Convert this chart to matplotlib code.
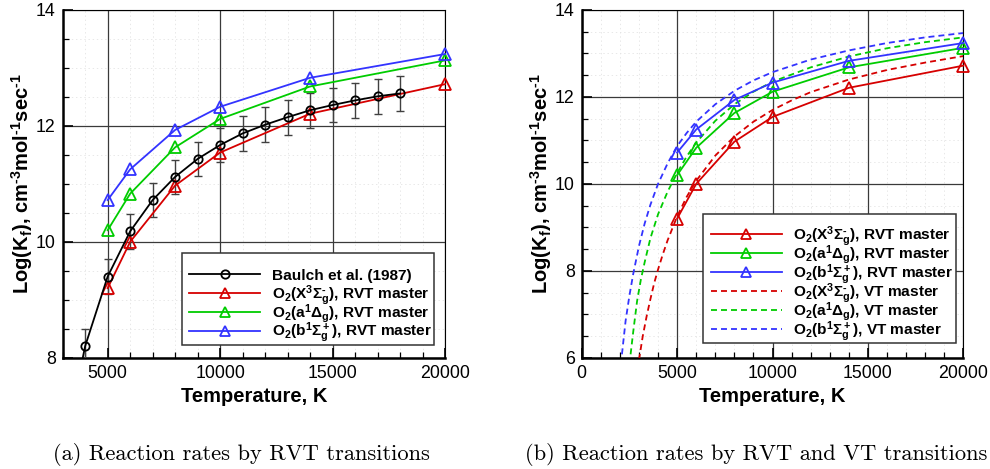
import matplotlib
matplotlib.use("Agg")
import matplotlib.pyplot as plt
from matplotlib.ticker import MultipleLocator
from matplotlib.patches import Rectangle

plt.rcParams['font.family'] = ['Liberation Sans', 'DejaVu Sans']
plt.rcParams['mathtext.fontset'] = 'custom'
plt.rcParams['mathtext.rm'] = 'Liberation Sans:bold'
plt.rcParams['mathtext.bf'] = 'Liberation Sans:bold'
plt.rcParams['mathtext.it'] = 'Liberation Sans:bold'
plt.rcParams['mathtext.sf'] = 'Liberation Sans:bold'
plt.rcParams['mathtext.default'] = 'rm'
plt.rcParams['lines.scale_dashes'] = False

# Baulch et al. (1987) reference rates with uncertainty
baulch_T = [3000, 4000, 5000, 6000, 7000, 8000, 9000, 10000, 11000, 12000,
            13000, 14000, 15000, 16000, 17000, 18000]
baulch_k = [6.3, 8.2, 9.4, 10.18, 10.72, 11.12, 11.43, 11.67, 11.87, 12.02,
            12.15, 12.27, 12.36, 12.44, 12.51, 12.56]
baulch_err = [0.3] * len(baulch_T)

# RVT master-equation rates
rvt_T = [5000, 6000, 8000, 10000, 14000, 20000]
rvt_X = [9.2, 10.0, 10.97, 11.54, 12.21, 12.72]
rvt_a = [10.2, 10.83, 11.63, 12.12, 12.68, 13.13]
rvt_b = [10.72, 11.25, 11.93, 12.33, 12.83, 13.24]

# VT master-equation rates
vt_X_T = [3000, 3200, 3400, 3600, 3800, 4000, 4250, 4500, 5000, 5500, 6000,
          7000, 8000, 9000, 10000, 11000, 12000, 14000, 16000, 18000, 20000]
vt_X = [5.95, 6.5, 6.95, 7.35, 7.72, 8.03, 8.38, 8.7, 9.25, 9.7, 10.07,
        10.65, 11.09, 11.43, 11.70, 11.92, 12.11, 12.40, 12.62, 12.79, 12.94]
vt_a_T = [2500, 2700, 2900, 3100, 3300, 3600, 4000, 4500, 5000, 5500, 6000,
          7000, 8000, 9000, 10000, 12000, 14000, 16000, 18000, 20000]
vt_a = [5.85, 6.6, 7.3, 7.8, 8.2, 8.75, 9.3, 9.82, 10.25, 10.63, 10.95,
        11.45, 11.83, 12.12, 12.35, 12.68, 12.93, 13.12, 13.26, 13.37]
vt_b_T = [2050, 2300, 2500, 2700, 3000, 3300, 3600, 4000, 4500, 5000, 5500,
          6000, 7000, 8000, 9000, 10000, 12000, 14000, 16000, 18000, 20000]
vt_b = [5.85, 6.85, 7.43, 7.93, 8.57, 9.09, 9.52, 10.0, 10.47, 10.87, 11.17,
        11.43, 11.83, 12.14, 12.38, 12.57, 12.86, 13.07, 13.24, 13.37, 13.47]

RED = '#d60000'
GREEN = '#00cc00'
BLUE = '#3333ff'
HY = '\u2010'  # short hyphen used for superscript signs

lab_X = r'O$_2$(X$^3\Sigma_g^{' + HY + r'}$), '
lab_a = r'O$_2$(a$^1\Delta_g$), '
lab_b = r'O$_2$(b$^1\Sigma_g^+$), '
ylab = (r'Log(K$_f$), cm$^{' + HY + r'3}$mol$^{' + HY + r'1}$sec$^{'
        + HY + r'1}$')

fig = plt.figure(figsize=(9.9, 4.69), dpi=100)
ax1 = fig.add_axes([0.0633, 0.2373, 0.3862, 0.7414])
ax2 = fig.add_axes([0.5876, 0.2373, 0.3855, 0.7414])


def style_axes(ax, xlim, ylim):
    ax.set_xlim(*xlim)
    ax.set_ylim(*ylim)
    ax.xaxis.set_major_locator(MultipleLocator(5000))
    ax.xaxis.set_minor_locator(MultipleLocator(1000))
    ax.yaxis.set_major_locator(MultipleLocator(2))
    ax.yaxis.set_minor_locator(MultipleLocator(0.5))
    ax.set_axisbelow(True)
    ax.grid(which='major', color='#3a3a3a', lw=0.9)
    ax.grid(which='minor', color='#e4e4e4', lw=0.6, ls=(0, (1, 2)))
    ax.tick_params(which='both', direction='in', top=False, right=False,
                   labelsize=12.8, color='black')
    ax.tick_params(which='major', length=7, width=1.2, pad=5)
    ax.tick_params(which='minor', length=4, width=0.9)
    for s in ('left', 'bottom'):
        ax.spines[s].set_linewidth(1.8)
    for s in ('top', 'right'):
        ax.spines[s].set_linewidth(0.8)
    ax.set_xlabel('Temperature, K', fontsize=14.5, fontweight='bold', labelpad=4)
    ax.set_ylabel(ylab, fontsize=14.5, fontweight='bold', labelpad=0.5)


def draw_key(ax, entries, box, first_row, pitch, hx, tx):
    """Boxed key in axes-fraction coordinates; entries = (label, style)."""
    x0, y0, x1, y1 = box
    ax.add_patch(Rectangle((x0, y0), x1 - x0, y1 - y0, transform=ax.transAxes,
                           facecolor='white', edgecolor='#333333', lw=1.1,
                           zorder=10, clip_on=False))
    px_h = ax.get_window_extent().height
    base_off = 5.6 / px_h
    for i, (label, st) in enumerate(entries):
        y = first_row - i * pitch
        ax.plot(hx, [y, y], transform=ax.transAxes, color=st['color'],
                lw=st.get('lw', 1.3), ls=st.get('ls', '-'), zorder=11,
                clip_on=False)
        if st.get('marker'):
            ax.plot([(hx[0] + hx[1]) / 2], [y], transform=ax.transAxes,
                    color=st['color'], marker=st['marker'], ms=st['ms'],
                    mfc='none', mew=st['mew'], zorder=12, clip_on=False)
        ax.text(tx, y - base_off, label, transform=ax.transAxes, va='baseline',
                ha='left', fontsize=11.1, fontweight='bold', zorder=12)


tri = dict(marker='^', ms=8, mfc='none', mew=1.3, lw=1.3, clip_on=False, zorder=4)
dash = dict(lw=1.3, ls=(0, (4.3, 2.9)), zorder=3)
circ = dict(marker='o', ms=6, mfc='none', mew=1.3, lw=1.3, zorder=5)

# (a) RVT transitions vs. Baulch
style_axes(ax1, (3000, 20000), (8, 14))
ax1.errorbar(baulch_T, baulch_k, yerr=baulch_err, fmt='none', ecolor='#404040',
             elinewidth=1.0, capsize=3, capthick=1.0, zorder=3)
ax1.plot(baulch_T, baulch_k, color='black', **circ)
ax1.plot(rvt_T, rvt_X, color=RED, **tri)
ax1.plot(rvt_T, rvt_a, color=GREEN, **tri)
ax1.plot(rvt_T, rvt_b, color=BLUE, **tri)

# (b) RVT and VT transitions
style_axes(ax2, (0, 20000), (6, 14))
ax2.plot(rvt_T, rvt_X, color=RED, **tri)
ax2.plot(rvt_T, rvt_a, color=GREEN, **tri)
ax2.plot(rvt_T, rvt_b, color=BLUE, **tri)
ax2.plot(vt_X_T, vt_X, color=RED, **dash)
ax2.plot(vt_a_T, vt_a, color=GREEN, **dash)
ax2.plot(vt_b_T, vt_b, color=BLUE, **dash)

key_tri = dict(marker='^', ms=7.5, mew=1.3, lw=1.3)
key_dash = dict(lw=1.3, ls=(0, (4.3, 2.9)))
draw_key(ax1,
         [('Baulch et al. (1987)', dict(circ, color='black')),
          (lab_X + 'RVT master', dict(key_tri, color=RED)),
          (lab_a + 'RVT master', dict(key_tri, color=GREEN)),
          (lab_b + 'RVT master', dict(key_tri, color=BLUE))],
         box=(0.3113, 0.0365, 0.9709, 0.3003), first_row=0.2399, pitch=0.0541,
         hx=[0.3312, 0.5161], tx=0.5465)
draw_key(ax2,
         [(lab_X + 'RVT master', dict(key_tri, color=RED)),
          (lab_a + 'RVT master', dict(key_tri, color=GREEN)),
          (lab_b + 'RVT master', dict(key_tri, color=BLUE)),
          (lab_X + 'VT master', dict(key_dash, color=RED)),
          (lab_a + 'VT master', dict(key_dash, color=GREEN)),
          (lab_b + 'VT master', dict(key_dash, color=BLUE))],
         box=(0.3187, 0.0414, 0.9809, 0.4133), first_row=0.3549, pitch=0.0545,
         hx=[0.3388, 0.5241], tx=0.5545)

fig.text(0.2434, 0.030, '(a) Reaction rates by RVT transitions',
         family='cmr10', fontsize=16.2, ha='center', va='center')
fig.text(0.7641, 0.030, '(b) Reaction rates by RVT and VT transitions',
         family='cmr10', fontsize=16.2, ha='center', va='center')

fig.savefig('out.png', dpi=100)
